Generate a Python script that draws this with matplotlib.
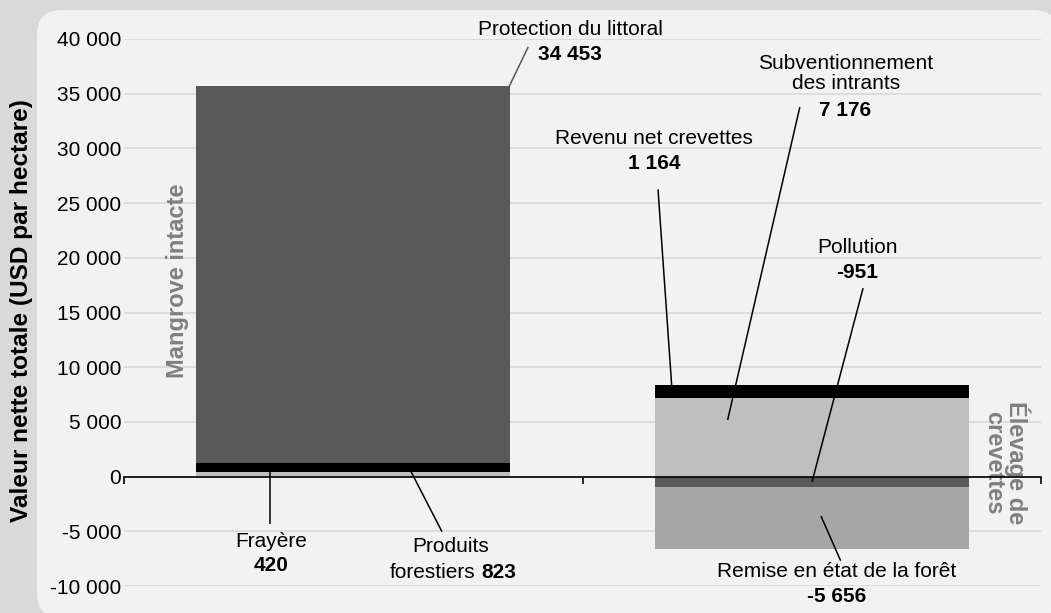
import matplotlib
matplotlib.use("Agg")
import matplotlib.pyplot as plt
from matplotlib.patches import FancyBboxPatch
import numpy as np

plt.rcParams['font.family'] = ['Liberation Sans', 'DejaVu Sans']

# ---------------- data ----------------
categories = ["Mangrove intacte", "Élevage de\ncrevettes"]

mangrove_labels = ["Frayère", "Produits forestiers", "Protection du littoral"]
mangrove_values = [420, 823, 34453]

shrimp_pos_labels = ["Subventionnement des intrants", "Revenu net crevettes"]
shrimp_pos_values = [7176, 1164]
shrimp_neg_labels = ["Pollution", "Remise en état de la forêt"]
shrimp_neg_values = [-951, -5656]

yticks = [-10000, -5000, 0, 5000, 10000, 15000, 20000, 25000, 30000, 35000, 40000]

# ---------------- style ----------------
mangrove_colors = ["#bfbfbf", "#000000", "#595959"]
shrimp_pos_colors = ["#bfbfbf", "#000000"]
shrimp_neg_colors = ["#595959", "#a6a6a6"]
FS = 15
BAR_W = 0.685


def fmt(v):
    return f"{v:,}".replace(",", " ")


fig = plt.figure(figsize=(10.51, 6.13), dpi=100, facecolor="#d9d9d9")
panel = FancyBboxPatch((0.37, -0.05), 10.21, 6.08,
                       boxstyle="round,pad=0,rounding_size=0.25",
                       transform=fig.dpi_scale_trans, facecolor="#f2f2f2",
                       edgecolor="none", zorder=-10)
fig.add_artist(panel)

ax = fig.add_axes([124/1051, 1-586/613, (1041-124)/1051, (586-39)/613])
ax.set_facecolor("none")

x = np.arange(len(categories))

# Mangrove stacked bar
bottom = 0
for v, c in zip(mangrove_values, mangrove_colors):
    ax.bar(x[0], v, BAR_W, bottom=bottom, color=c, zorder=2)
    bottom += v
# Shrimp positive
bottom = 0
for v, c in zip(shrimp_pos_values, shrimp_pos_colors):
    ax.bar(x[1], v, BAR_W, bottom=bottom, color=c, zorder=2)
    bottom += v
# Shrimp negative
bottom = 0
for v, c in zip(shrimp_neg_values, shrimp_neg_colors):
    ax.bar(x[1], v, BAR_W, bottom=bottom, color=c, zorder=2)
    bottom += v

ax.set_xlim(-0.5, 1.5)
ax.set_ylim(-10000, 40000)
ax.set_yticks(yticks)
ax.set_yticklabels([fmt(t) for t in yticks], fontsize=FS, color="#000000")
ax.tick_params(axis='y', length=0, pad=2)
ax.yaxis.grid(True, color="#dadada", linewidth=1.3)
ax.set_axisbelow(True)

for s in ["top", "right", "left"]:
    ax.spines[s].set_visible(False)
ax.spines["bottom"].set_position(("data", 0))
ax.spines["bottom"].set_linewidth(1.2)
ax.spines["bottom"].set_zorder(3)
ax.set_xticks([-0.5, 0.5, 1.5])
ax.set_xticklabels([])
ax.tick_params(axis='x', direction='out', length=5, width=1.2)

# category labels
ax.text(-0.384, 17900, categories[0], rotation=90, ha='center', va='center',
        fontsize=17, fontweight='bold', color="#7f7f7f")
ax.text(1.425, 1250, categories[1], rotation=-90, ha='center', va='center',
        fontsize=17, fontweight='bold', color="#7f7f7f", multialignment='center',
        linespacing=0.95)

fig.text(22/1051, 1-311/613, "Valeur nette totale (USD par hectare)", rotation=90,
         ha='center', va='center', fontsize=17.6, fontweight='bold', color="#000000")

# ---------------- annotations ----------------
def leader(p0, p1, color="#000000"):
    ax.plot([p0[0], p1[0]], [p0[1], p1[1]], color=color, lw=1.1, zorder=4,
            clip_on=False, solid_capstyle='butt')


def label(xc, y1, y2, name, value):
    ax.text(xc, y1, name, ha='center', va='center', fontsize=FS, zorder=5,
            multialignment='center', linespacing=1.15)
    ax.text(xc, y2, fmt(value), ha='center', va='center', fontsize=FS,
            fontweight='bold', zorder=5)


# Protection du littoral
leader((0.3405, sum(mangrove_values)), (0.3817, 39290), color="#595959")
label(0.473, 40830, 38540, mangrove_labels[2], mangrove_values[2])

# Frayère
leader((-0.1816, 1243), (-0.1816, -4330))
label(-0.179, -5890, -8140, mangrove_labels[0], mangrove_values[0])

# Produits forestiers (mixed regular/bold line)
leader((0.126, 450), (0.1936, -5040))
ax.text(0.213, -6400, "Produits", ha='center', va='center', fontsize=FS, zorder=5)
ax.text((475-124)/458.5-0.5, -8780, "forestiers", ha='right', va='center', fontsize=FS, zorder=5)
ax.text((481-124)/458.5-0.5, -8780, fmt(mangrove_values[1]), ha='left', va='center',
        fontsize=FS, fontweight='bold', zorder=5)

# Revenu net crevettes
leader((0.6945, sum(shrimp_pos_values)), (0.6647, 26260))
label(0.656, 30940, 28660, shrimp_pos_labels[1], shrimp_pos_values[1])

# Subventionnement des intrants
leader((0.8165, 5170), (0.974, 33780))
ax.text(1.074, 36850, "Subventionnement\ndes intrants", ha='center', va='center',
        fontsize=FS, zorder=5, multialignment='center', linespacing=1.1)
ax.text(1.073, 33440, fmt(shrimp_pos_values[0]), ha='center', va='center',
        fontsize=FS, fontweight='bold', zorder=5)

# Pollution
leader((1.0005, -490), (1.112, 17230))
label(1.10, 20900, 18620, shrimp_neg_labels[0], shrimp_neg_values[0])

# Remise en état de la forêt
leader((1.020, -3600), (1.063, -7690))
label(1.054, -8690, -11000, shrimp_neg_labels[1], shrimp_neg_values[1])

fig.savefig("out.png", dpi=100, facecolor=fig.get_facecolor())
